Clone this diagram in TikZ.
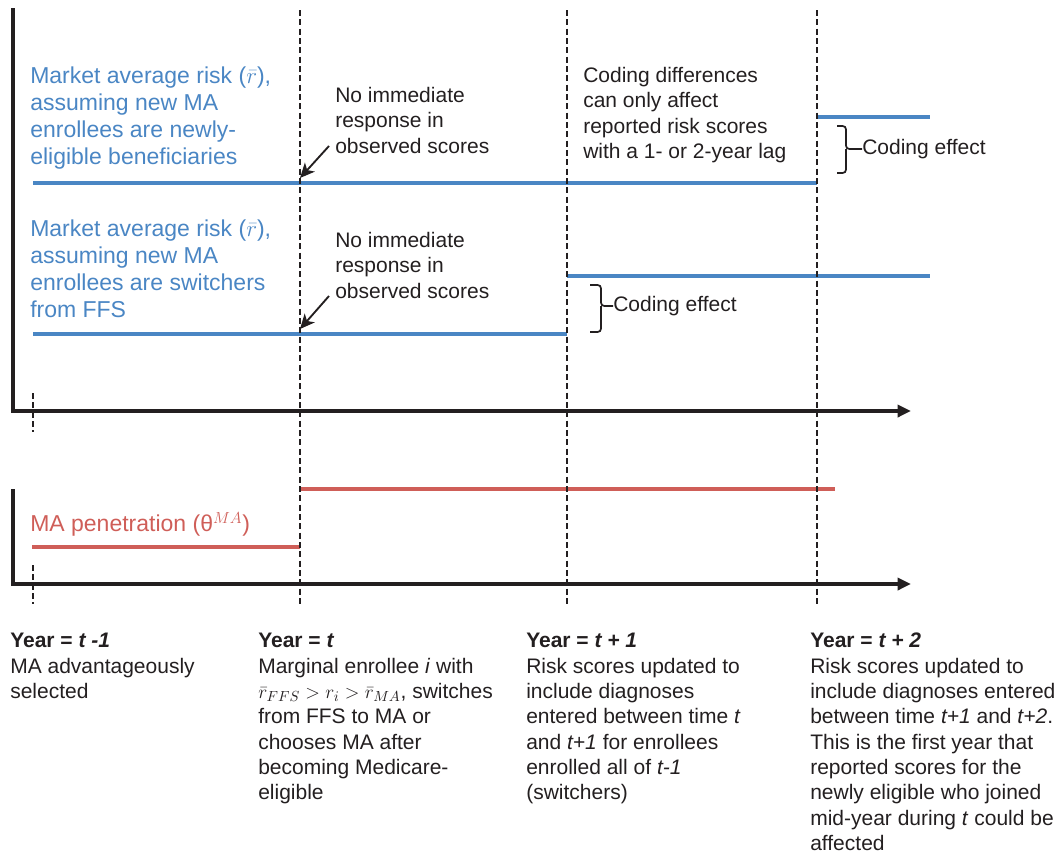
\documentclass[tikz,border=0pt]{standalone}
\usepackage{fontspec}
\setmainfont{Liberation Sans}
\usetikzlibrary{arrows.meta}
\definecolor{myblue}{RGB}{74,134,196}
\definecolor{myred}{RGB}{207,94,88}
\definecolor{ink}{RGB}{35,31,32}
\tikzset{
  axisline/.style={draw=ink, line width=3pt, line join=miter, -{Triangle[length=10pt,width=9pt]}},
  guide/.style={draw=ink, line width=1.5pt, dash pattern=on 4.5pt off 2.5pt},
  blueline/.style={draw=myblue, line width=3pt},
  redline/.style={draw=myred, line width=3.5pt},
  txt/.style={font=\fontsize{15.75}{19}\selectfont, align=left, inner sep=0pt, anchor=north west, text=ink},
  bigtxt/.style={font=\fontsize{17.25}{20.1}\selectfont, align=left, inner sep=0pt, anchor=north west},
  pointer/.style={draw=ink, line width=1.4pt, -{Stealth[length=11pt,width=10pt,inset=3pt]}},
  bracket/.style={draw=ink, line width=1.3pt, rounded corners=2.5pt}
}
\begin{document}
\begin{tikzpicture}[x=0.75pt,y=-0.75pt]
\useasboundingbox (0,0) rectangle (1061,857);

% coordinates
\coordinate (b1a) at (33,183);
\coordinate (b1b) at (817,183);
\coordinate (b1c) at (817,117);
\coordinate (b1d) at (930,117);
\coordinate (b2a) at (33,334);
\coordinate (b2b) at (567,334);
\coordinate (b2c) at (567,276);
\coordinate (b2d) at (930,276);
\coordinate (r1a) at (32,547);
\coordinate (r1b) at (300,547);
\coordinate (r2a) at (300,489);
\coordinate (r2b) at (835,489);

% data lines
\draw[blueline] (b1a) -- (b1b);
\draw[blueline] (b1c) -- (b1d);
\draw[blueline] (b2a) -- (b2b);
\draw[blueline] (b2c) -- (b2d);
\draw[redline] (r1a) -- (r1b);
\draw[redline] (r2a) -- (r2b);

% axes
\coordinate (ax1top) at (13,8);
\coordinate (ax1o) at (13,411);
\coordinate (ax1end) at (911,411);
\coordinate (ax2top) at (13,489);
\coordinate (ax2o) at (13,584);
\coordinate (ax2end) at (911,584);
\draw[axisline] (ax1top) -- (ax1o) -- (ax1end);
\draw[axisline] (ax2top) -- (ax2o) -- (ax2end);

% guides
\coordinate (g0a) at (33,393); \coordinate (g0b) at (33,432);
\coordinate (g0c) at (33,565); \coordinate (g0d) at (33,604);
\draw[guide] (g0a) -- (g0b);
\draw[guide] (g0c) -- (g0d);
\coordinate (g1a) at (300,10); \coordinate (g1b) at (300,604);
\coordinate (g2a) at (567,10); \coordinate (g2b) at (567,604);
\coordinate (g3a) at (817,10); \coordinate (g3b) at (817,604);
\draw[guide] (g1a) -- (g1b);
\draw[guide] (g2a) -- (g2b);
\draw[guide] (g3a) -- (g3b);

% labels
\node[bigtxt, text=myblue] (blue1) at (30,67) {Market average risk ($\bar{r}$),\\assuming new MA\\enrollees are newly-\\eligible beneficiaries};
\node[bigtxt, text=myblue] (blue2) at (30,220) {Market average risk ($\bar{r}$),\\assuming new MA\\enrollees are switchers\\from FFS};
\node[bigtxt, text=myred] (redlbl) at (30,512) {MA penetration (θ$^{MA}$)};

\node[txt] (noresp1) at (335,87) {No immediate\\response in\\observed scores};
\node[txt] (noresp2) at (335,232) {No immediate\\response in\\observed scores};
\node[txt] (coding) at (583,67) {Coding differences\\can only affect\\reported risk scores\\with a 1- or 2-year lag};

\node[txt, anchor=west] (ce1) at (862,149) {Coding effect};
\node[txt, anchor=west] (ce2) at (613,306) {Coding effect};

% pointers
\coordinate (p1s) at (329,146); \coordinate (p1e) at (300,178);
\coordinate (p2s) at (329,296); \coordinate (p2e) at (300,329);
\draw[pointer] (p1s) -- (p1e);
\draw[pointer] (p2s) -- (p2e);

% brackets
\draw[bracket] (837,126) -| (846,149) -- (ce1.west);
\draw[bracket] (837,173) -| (846,149);
\draw[bracket] (590,285) -| (601,306) -- (ce2.west);
\draw[bracket] (590,332) -| (601,306);

% bottom text
\node[txt] (y0) at (10,633) {\textbf{Year = \textit{t -1}}\\MA advantageously\\selected};
\node[txt] (y1) at (258,633) {\textbf{Year = \textit{t}}\\Marginal enrollee \textit{i} with\\$\bar{r}_{FFS} > r_i > \bar{r}_{MA}$, switches\\from FFS to MA or\\chooses MA after\\becoming Medicare-\\eligible};
\node[txt] (y2) at (526,633) {\textbf{Year = \textit{t + 1}}\\Risk scores updated to\\include diagnoses\\entered between time \textit{t}\\and \textit{t+1} for enrollees\\enrolled all of \textit{t-1}\\(switchers)};
\node[txt] (y3) at (810,633) {\textbf{Year = \textit{t + 2}}\\Risk scores updated to\\include diagnoses entered\\between time \textit{t+1} and \textit{t+2}.\\This is the first year that\\reported scores for the\\newly eligible who joined\\mid-year during \textit{t} could be\\affected};
\end{tikzpicture}
\end{document}
